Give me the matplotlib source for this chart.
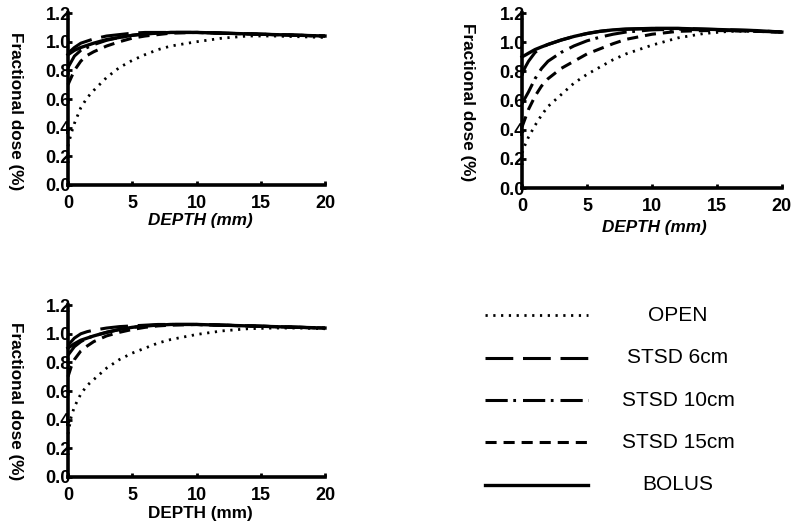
import matplotlib
matplotlib.use("Agg")
import matplotlib.pyplot as plt

plt.rcParams['font.family'] = ['Liberation Sans', 'DejaVu Sans']
plt.rcParams['lines.scale_dashes'] = False

# depth grid (mm) shared by all curves
depth = [0, 0.25, 0.5, 1, 1.5, 2, 3, 4, 5, 6, 7, 8, 10, 12, 14, 16, 18, 20]

series_names = ["OPEN", "STSD 6cm", "STSD 10cm", "STSD 15cm", "BOLUS"]

# top-left panel
p1_open = [0.27, 0.36, 0.43, 0.54, 0.61, 0.66, 0.75, 0.82, 0.87, 0.91, 0.945, 0.97, 1.0, 1.025, 1.04, 1.04, 1.035, 1.03]
p1_stsd6 = [0.92, 0.94, 0.96, 0.99, 1.005, 1.02, 1.04, 1.05, 1.06, 1.065, 1.065, 1.065, 1.065, 1.06, 1.055, 1.05, 1.045, 1.04]
p1_stsd10 = [0.82, 0.86, 0.9, 0.94, 0.96, 0.98, 1.01, 1.03, 1.045, 1.055, 1.06, 1.065, 1.065, 1.06, 1.055, 1.05, 1.045, 1.04]
p1_stsd15 = [0.7, 0.75, 0.8, 0.865, 0.905, 0.93, 0.97, 1.0, 1.025, 1.04, 1.05, 1.06, 1.065, 1.06, 1.055, 1.05, 1.045, 1.04]
p1_bolus = [0.91, 0.925, 0.94, 0.96, 0.975, 0.99, 1.015, 1.03, 1.045, 1.055, 1.06, 1.065, 1.065, 1.06, 1.055, 1.05, 1.045, 1.04]

# top-right panel
p2_open = [0.24, 0.3, 0.35, 0.43, 0.5, 0.56, 0.64, 0.72, 0.78, 0.83, 0.88, 0.92, 0.98, 1.03, 1.06, 1.075, 1.075, 1.07]
p2_stsd6 = [0.78, 0.83, 0.87, 0.93, 0.965, 0.985, 1.015, 1.04, 1.06, 1.075, 1.085, 1.09, 1.095, 1.095, 1.09, 1.085, 1.08, 1.07]
p2_stsd10 = [0.58, 0.62, 0.66, 0.75, 0.82, 0.87, 0.93, 0.975, 1.01, 1.035, 1.055, 1.07, 1.085, 1.09, 1.085, 1.08, 1.075, 1.07]
p2_stsd15 = [0.42, 0.48, 0.54, 0.63, 0.7, 0.75, 0.82, 0.87, 0.92, 0.955, 0.99, 1.02, 1.055, 1.075, 1.08, 1.08, 1.075, 1.07]
p2_bolus = [0.9, 0.912, 0.925, 0.95, 0.968, 0.985, 1.015, 1.04, 1.06, 1.075, 1.085, 1.09, 1.095, 1.095, 1.09, 1.085, 1.08, 1.07]

# bottom-left panel
p3_open = [0.3, 0.42, 0.49, 0.58, 0.64, 0.68, 0.76, 0.82, 0.865, 0.9, 0.935, 0.96, 0.995, 1.02, 1.035, 1.04, 1.04, 1.035]
p3_stsd6 = [0.92, 0.945, 0.97, 1.0, 1.015, 1.025, 1.04, 1.05, 1.055, 1.06, 1.065, 1.065, 1.065, 1.06, 1.055, 1.05, 1.045, 1.04]
p3_stsd10 = [0.85, 0.88, 0.91, 0.945, 0.97, 0.985, 1.01, 1.03, 1.045, 1.055, 1.06, 1.065, 1.065, 1.06, 1.055, 1.05, 1.045, 1.04]
p3_stsd15 = [0.7, 0.77, 0.82, 0.88, 0.915, 0.945, 0.985, 1.01, 1.03, 1.045, 1.055, 1.06, 1.065, 1.06, 1.055, 1.05, 1.045, 1.04]
p3_bolus = [0.9, 0.915, 0.93, 0.955, 0.97, 0.985, 1.01, 1.03, 1.045, 1.055, 1.06, 1.065, 1.065, 1.06, 1.055, 1.05, 1.045, 1.04]

panels = [
    [p1_open, p1_stsd6, p1_stsd10, p1_stsd15, p1_bolus],
    [p2_open, p2_stsd6, p2_stsd10, p2_stsd15, p2_bolus],
    [p3_open, p3_stsd6, p3_stsd10, p3_stsd15, p3_bolus],
]

x_ticks = [0, 5, 10, 15, 20]
y_ticks = [0.0, 0.2, 0.4, 0.6, 0.8, 1.0, 1.2]

styles = [
    dict(linestyle=(0, (1.6, 4.0)), linewidth=2.0),
    dict(linestyle=(0, (20, 7)), linewidth=2.2),
    dict(linestyle=(0, (16, 4, 2, 5)), linewidth=2.2),
    dict(linestyle=(0, (8, 5)), linewidth=2.2),
    dict(linestyle='-', linewidth=2.4),
]

fig = plt.figure(figsize=(7.97, 5.24), dpi=100)

# axes boxes in figure fractions
boxes = [
    [0.0853, 0.647, 0.3225, 0.328],
    [0.655, 0.641, 0.326, 0.334],
    [0.0853, 0.0897, 0.3225, 0.328],
]
ylab_pos = [(-0.206, 0.43), (-0.208, 0.49), (-0.206, 0.44)]
xlab_pos = [(0.514, -0.205), (0.51, -0.225), (0.514, -0.215)]
xlab_style = ['italic', 'italic', 'normal']

for i, (box, curves) in enumerate(zip(boxes, panels)):
    ax = fig.add_axes(box)
    for vals, st in zip(curves, styles):
        ax.plot(depth, vals, color='black', clip_on=False, **st)
    ax.set_xlim(0, 20)
    ax.set_ylim(0, 1.2)
    ax.set_xticks(x_ticks)
    ax.set_yticks(y_ticks)
    ax.set_yticklabels([f"{v:.1f}" for v in y_ticks])
    for s in ['top', 'right']:
        ax.spines[s].set_visible(False)
    for s in ['left', 'bottom']:
        ax.spines[s].set_linewidth(2.6)
    ax.tick_params(axis='both', direction='in', length=3, width=2,
                   labelsize=13)
    ax.tick_params(axis='y', pad=-2)
    ax.tick_params(axis='x', pad=7)
    for lab in ax.get_xticklabels() + ax.get_yticklabels():
        lab.set_fontweight('bold')
    ax.set_ylabel("Fractional dose (%)", fontsize=12.3, fontweight='bold',
                  rotation=270, va='center', ha='center')
    ax.yaxis.set_label_coords(*ylab_pos[i])
    ax.set_xlabel("DEPTH (mm)", fontsize=12.3, fontweight='bold',
                  style=xlab_style[i], va='center', ha='center')
    ax.xaxis.set_label_coords(*xlab_pos[i])

# legend panel
leg = fig.add_axes([470 / 797, 14 / 524, 327 / 797, 220 / 524])
leg.set_xlim(0, 1)
leg.set_ylim(4.59, -0.59)
leg.axis('off')
for row, (name, st) in enumerate(zip(series_names, styles)):
    leg.plot([0.046, 0.361], [row, row], color='black', **st)
    leg.text(0.636, row, name, ha='center', va='center', fontsize=15)

plt.savefig("out.png", dpi=100)
